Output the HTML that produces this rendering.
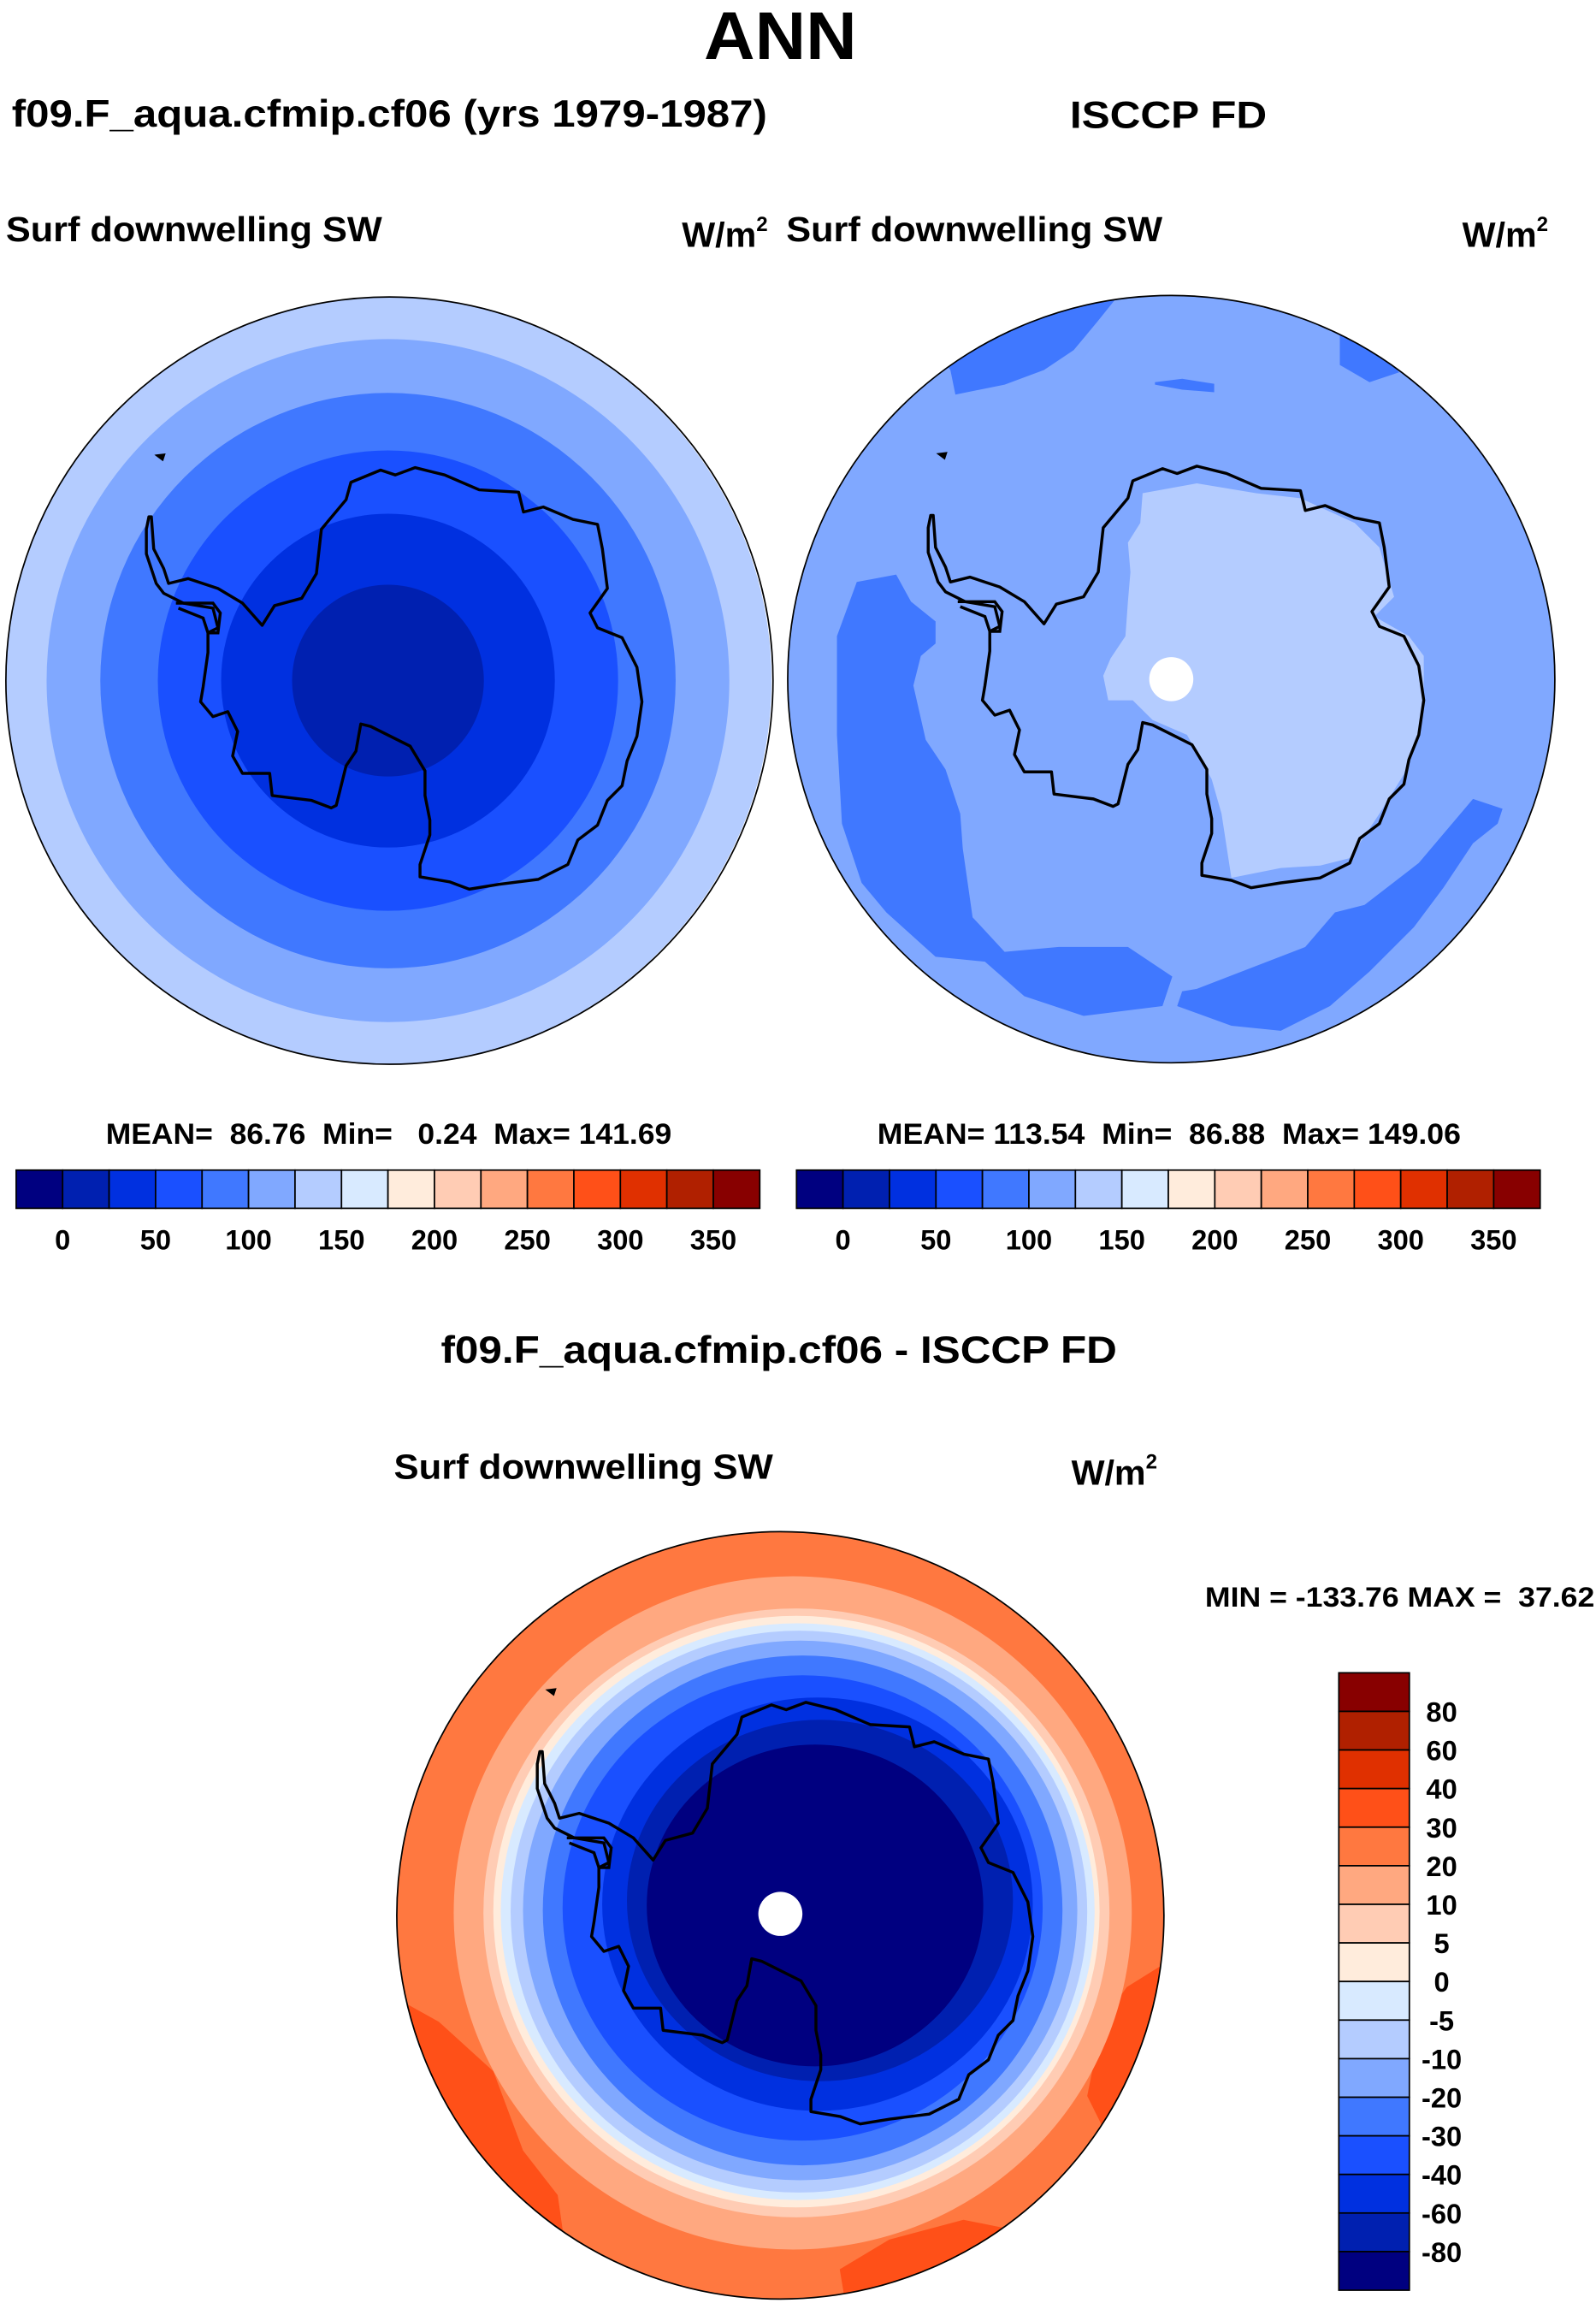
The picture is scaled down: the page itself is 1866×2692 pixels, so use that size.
<!DOCTYPE html>
<html><head><meta charset="utf-8">
<style>
html,body{margin:0;padding:0;background:#fff;}
svg{display:block;}
text{font-family:"Liberation Sans",sans-serif;font-weight:bold;fill:#000;white-space:pre;}
</style></head>
<body>
<svg id="fig" width="1866" height="2692" viewBox="0 0 1086 1566.7" xmlns="http://www.w3.org/2000/svg" xml:space="preserve">
<defs>
<clipPath id="clipL"><circle cx="265" cy="463" r="261"/></clipPath>
<clipPath id="clipR"><circle cx="797" cy="462" r="261"/></clipPath>
<clipPath id="clipB"><circle cx="531" cy="1303" r="261"/></clipPath>
</defs>
<text x="531" y="40" font-size="46" text-anchor="middle" textLength="104" lengthAdjust="spacingAndGlyphs">ANN</text>
<text x="8" y="86" font-size="26" textLength="514" lengthAdjust="spacingAndGlyphs">f09.F_aqua.cfmip.cf06 (yrs 1979-1987)</text>
<text x="728" y="87" font-size="26" textLength="134" lengthAdjust="spacingAndGlyphs">ISCCP FD</text>
<text x="4" y="164" font-size="24" textLength="256" lengthAdjust="spacingAndGlyphs">Surf downwelling SW</text>
<text x="464" y="168" font-size="24">W/m<tspan font-size="14" dy="-11">2</tspan></text>
<text x="535" y="164" font-size="24" textLength="256" lengthAdjust="spacingAndGlyphs">Surf downwelling SW</text>
<text x="995" y="168" font-size="24">W/m<tspan font-size="14" dy="-11">2</tspan></text>
<text x="72" y="778" font-size="20" textLength="385" lengthAdjust="spacingAndGlyphs">MEAN=  86.76  Min=   0.24  Max= 141.69</text>
<text x="597" y="778" font-size="20" textLength="397" lengthAdjust="spacingAndGlyphs">MEAN= 113.54  Min=  86.88  Max= 149.06</text>
<text x="300" y="927" font-size="26" textLength="460" lengthAdjust="spacingAndGlyphs">f09.F_aqua.cfmip.cf06 - ISCCP FD</text>
<text x="268" y="1006" font-size="24" textLength="258" lengthAdjust="spacingAndGlyphs">Surf downwelling SW</text>
<text x="729" y="1010" font-size="24">W/m<tspan font-size="14" dy="-11">2</tspan></text>
<text x="820" y="1093" font-size="19" textLength="265" lengthAdjust="spacingAndGlyphs">MIN = -133.76 MAX =  37.62</text>
<g id="maps"></g>
<g id="bars"></g>
</svg>
<script>
// ---- data ----
const colors = ["#000080","#0020b0","#0030e0","#1a50ff","#4078ff","#80a8ff","#b4ccff","#d8eaff","#ffecdc","#ffccb4","#ffa880","#ff7840","#ff5018","#e03000","#b02000","#880000"];
const absLevels = [0,25,50,75,100,125,150,175,200,225,250,275,300,325,350];
const absTickLabels = ["0","50","100","150","200","250","300","350"];
const diffLevels = [-80,-60,-40,-30,-20,-10,-5,0,5,10,20,30,40,60,80];
const diffTickLabels = ["80","60","40","30","20","10","5","0","-5","-10","-20","-30","-40","-60","-80"];
const modelRingRadius = [1.0,0.89,0.75,0.60,0.435,0.25];
const modelRingColor = [6,5,4,3,2,1];
const diffRingColor = [10,9,8,7,6,5,4,3,2,1,0];
const diffRingTop =    [100,165,180,195,210,230,260,300,345,390,440];
const diffRingBottom = [1460,1395,1375,1360,1345,1320,1290,1240,1180,1120,1090];
const diffRingLeft =   [120,180,200,215,235,260,300,340,420,470,510];
const diffRingRight =  [1490,1445,1425,1415,1400,1380,1350,1310,1290,1250,1190];
const coast = [[295,455],[300,520],[320,560],[330,590],[370,580],[430,600],[480,630],[520,675],[545,635],[600,620],[630,570],[640,480],[690,420],[700,385],[760,360],[790,370],[830,355],[890,370],[960,400],[1040,405],[1050,445],[1090,435],[1150,460],[1200,470],[1210,520],[1220,600],[1185,650],[1200,680],[1250,700],[1280,760],[1290,830],[1280,900],[1260,950],[1250,1000],[1220,1030],[1200,1080],[1160,1110],[1140,1160],[1080,1190],[1000,1200],[940,1210],[900,1195],[840,1185],[840,1160],[860,1100],[860,1070],[850,1020],[850,970],[820,920],[780,900],[740,880],[720,875],[710,930],[690,960],[670,1040],[660,1045],[620,1030],[540,1020],[535,975],[480,975],[460,940],[470,890],[450,850],[420,860],[395,830],[400,800],[410,730],[410,690],[430,680],[420,640],[360,630],[320,610],[305,590],[285,530],[285,480],[290,455]];
const obsLight = [[720,410],[830,390],[950,410],[1040,420],[1150,470],[1200,520],[1230,620],[1190,660],[1260,700],[1290,740],[1290,830],[1280,900],[1250,980],[1200,1060],[1140,1150],[1080,1165],[1000,1170],[900,1190],[880,1060],[860,990],[810,900],[740,870],[700,830],[650,830],[640,780],[655,745],[685,700],[690,630],[695,570],[690,510],[715,470]];
const obsDark = [
 [[100,700],[140,590],[220,575],[250,630],[300,670],[300,715],[270,740],[255,800],[280,910],[320,970],[350,1060],[355,1130],[375,1270],[440,1340],[550,1330],[690,1330],[780,1390],[760,1450],[600,1470],[480,1430],[400,1360],[300,1350],[200,1260],[150,1200],[110,1080],[100,900]],
 [[800,1420],[830,1415],[1050,1330],[1110,1260],[1170,1245],[1280,1160],[1390,1030],[1450,1050],[1440,1080],[1390,1120],[1330,1210],[1270,1290],[1180,1380],[1100,1450],[1000,1500],[900,1490],[790,1450]],
 [[330,160],[340,210],[440,190],[520,160],[580,120],[630,60],[670,10],[560,0],[430,40],[300,120]],
 [[1120,90],[1120,150],[1180,185],[1240,165],[1150,60]],
 [[745,185],[800,178],[865,188],[865,205],[800,200],[745,190]]
];
const diffWarm = [
 [[0,950],[90,1000],[200,1100],[260,1260],[330,1350],[360,1560],[100,1400],[0,1200]],
 [[1400,1150],[1430,1000],[1480,930],[1560,880],[1560,1200],[1450,1250]],
 [[900,1500],[1000,1440],[1150,1400],[1250,1420],[1150,1530],[910,1560]],
 [[1090,10],[1200,90],[1300,120],[1420,260],[1400,100],[1200,0]]
];

const NS="http://www.w3.org/2000/svg";
function mk(tag, attrs, parent){const e=document.createElementNS(NS,tag);for(const k in attrs)e.setAttribute(k,attrs[k]);parent.appendChild(e);return e;}
const maps=document.getElementById('maps');
const bars=document.getElementById('bars');
const R=261;
function pts(list, cx, cy, c0x, c0y, unit){return list.map(p=>((cx+(p[0]-c0x)*R/unit).toFixed(1)+","+(cy+(p[1]-c0y)*R/unit).toFixed(1))).join(" ");}

function addCoast(g,cx,cy){
  const pl=mk('polygon',{points:pts(coast,cx,cy,778,787,778),fill:'none',stroke:'#000','stroke-width':2,'stroke-linejoin':'round'},g);
  
  
  const isl=mk('polygon',{points:pts([[305,330],[322,328],[318,340]],cx,cy,778,787,778),fill:'#000',stroke:'#000','stroke-width':1},g);
  
  
  const bay=mk('polyline',{points:pts([[345,630],[420,630],[435,650],[430,690],[410,690],[400,660],[350,640]],cx,cy,778,787,778),fill:'none',stroke:'#000','stroke-width':2},g);
  
  
}
function border(g,cx,cy,name){
  const c=mk('circle',{cx:cx,cy:cy,r:R,fill:'none',stroke:'#000','stroke-width':1},g);
  
  
}

const gL=mk('g',{'clip-path':'url(#clipL)'},maps);


modelRingRadius.forEach((f,i)=>{
  const c=mk('circle',{cx:264,cy:463,r:f*R,fill:colors[modelRingColor[i]]},gL);
  
  
});
addCoast(gL,265,463);
border(maps,265,463,'model-map-border');

const gR=mk('g',{'clip-path':'url(#clipR)'},maps);


const bgR=mk('circle',{cx:797,cy:462,r:R,fill:colors[5]},gR);


obsDark.forEach(p=>{
  const e=mk('polygon',{points:pts(p,797,462,778,787,778),fill:colors[4]},gR);
  
  
});
const li=mk('polygon',{points:pts(obsLight,797,462,778,787,778),fill:colors[6]},gR);


addCoast(gR,797,462);
const pR=mk('circle',{cx:797,cy:462,r:15,fill:'#fff'},gR);


border(maps,797,462,'obs-map-border');

const gB=mk('g',{'clip-path':'url(#clipB)'},maps);


const bgB=mk('circle',{cx:531,cy:1303,r:R,fill:colors[11]},gB);


diffWarm.forEach(p=>{
  const e=mk('polygon',{points:pts(p,531,1303,780,785,775),fill:colors[12]},gB);
  
  
});
const u=R/775;
diffRingColor.forEach((ci,i)=>{
  const cx=531+((diffRingLeft[i]+diffRingRight[i])/2-780)*u;
  const cy=1303+((diffRingTop[i]+diffRingBottom[i])/2-785)*u;
  const e=mk('ellipse',{cx:cx,cy:cy,rx:(diffRingRight[i]-diffRingLeft[i])/2*u,ry:(diffRingBottom[i]-diffRingTop[i])/2*u,fill:colors[ci]},gB);
  
  
});
addCoast(gB,531,1303);
const pB=mk('circle',{cx:531,cy:1302,r:15,fill:'#fff'},gB);


border(maps,531,1303,'difference-map-border');

function hbar(x0,x1,y0,y1,name){
  const w=(x1-x0)/colors.length;
  const g=mk('g',{},bars);
  
  
  colors.forEach((c,i)=>{
    const r=mk('rect',{x:x0+i*w,y:y0,width:w,height:y1-y0,fill:c,stroke:'#000','stroke-width':1},g);
    
    
  });
  absLevels.forEach((lv,i)=>{
    if(i%2) return;
    const t=mk('text',{x:x0+(i+1)*w,y:850,'font-size':19,'text-anchor':'middle'},g);
    t.textContent=absTickLabels[i/2];
    
    
  });
}
hbar(11,517,796,822,'model-colorbar');
hbar(542,1048,796,822,'obs-colorbar');

(function(){
  const x0=911,x1=959,y0=1138,y1=1558;
  const h=(y1-y0)/colors.length;
  const g=mk('g',{},bars);
  
  
  colors.slice().reverse().forEach((c,i)=>{
    const r=mk('rect',{x:x0,y:y0+i*h,width:x1-x0,height:h,fill:c,stroke:'#000','stroke-width':1},g);
    
    
  });
  diffLevels.forEach((lv,i)=>{
    const t=mk('text',{x:981,y:y0+(i+1)*h+7,'font-size':19,'text-anchor':'middle'},g);
    t.textContent=diffTickLabels[i];
    
    
  });
})();
</script>
</body></html>
